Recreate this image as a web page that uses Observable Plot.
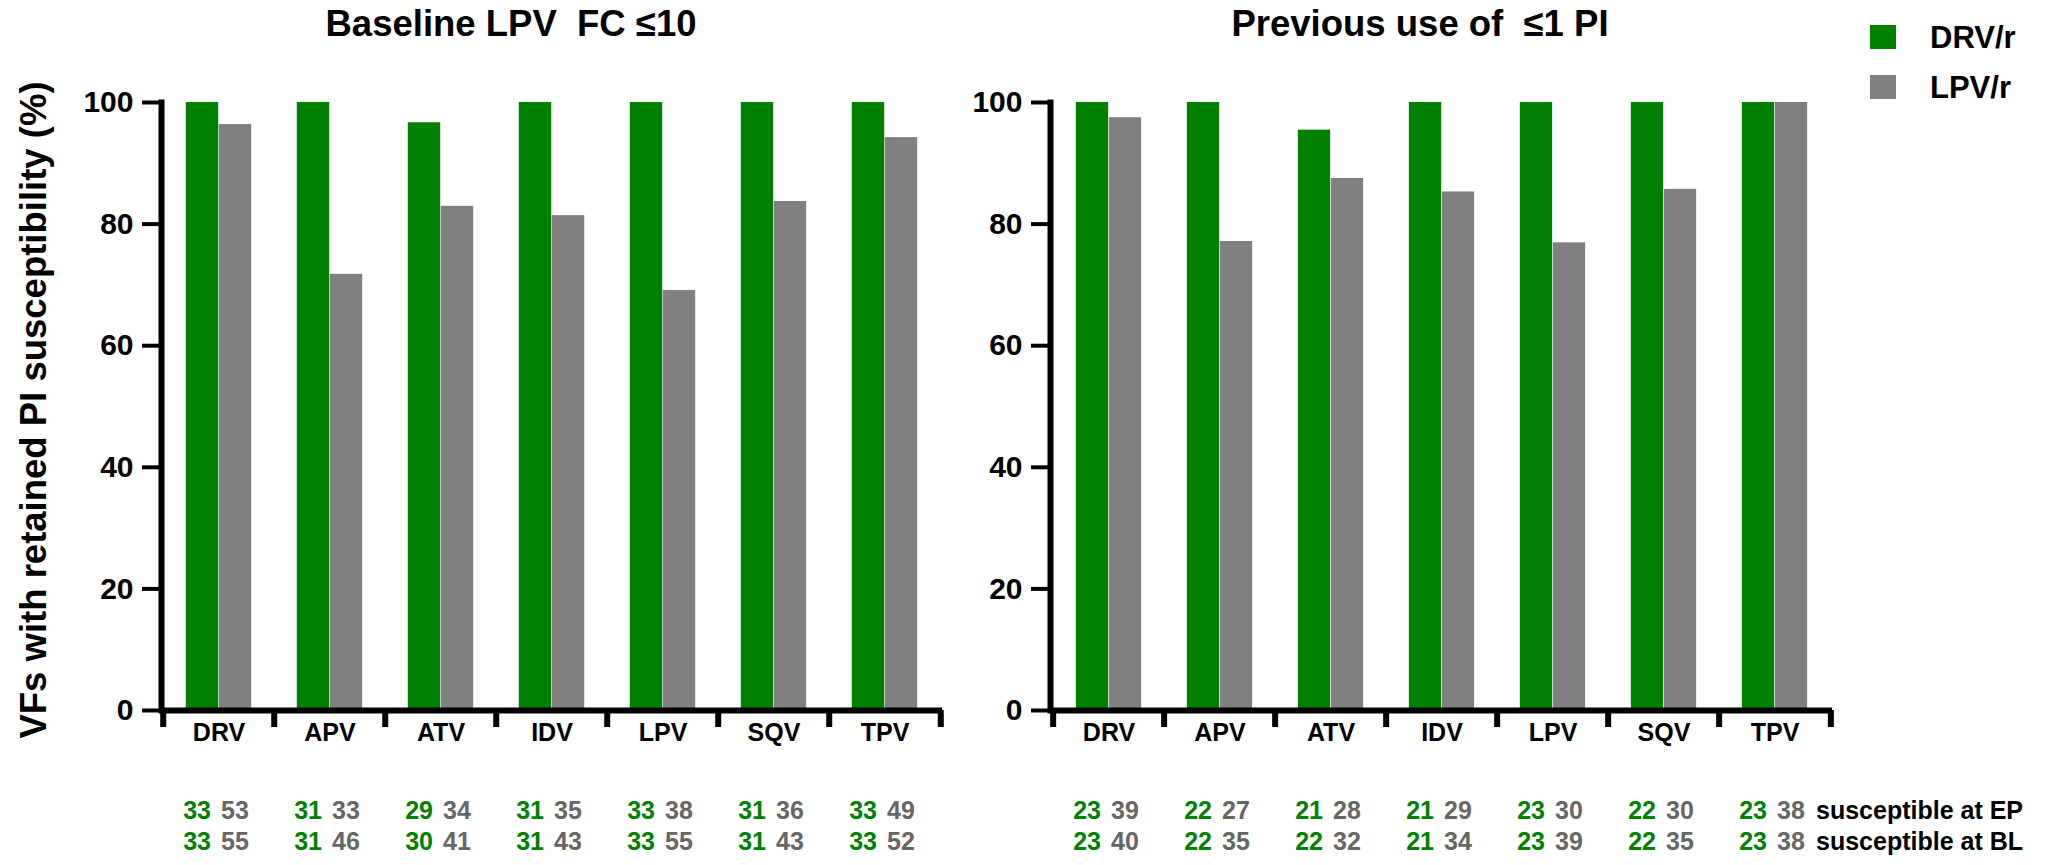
<!DOCTYPE html>
<html>
<head>
<meta charset="utf-8">
<script src="https://cdn.jsdelivr.net/npm/d3@7"></script>
<script src="https://cdn.jsdelivr.net/npm/@observablehq/plot@0.6"></script>
<style>
  html, body { margin: 0; padding: 0; background: #fff; }
  body { width: 2052px; height: 865px; position: relative; overflow: hidden;
         font-family: "Liberation Sans", Arial, sans-serif; font-weight: bold; color: #000; }
  .abs { position: absolute; white-space: nowrap; line-height: 1; }
  .title { font-size: 36.5px; transform: translateX(-50%); }
  .ylabel { font-size: 36.5px; transform: translate(-50%, -50%) rotate(-90deg); }
  .swatch { position: absolute; width: 26px; height: 24px; }
  .legtext { font-size: 31px; transform: translateY(-50%); }
  svg { position: absolute; top: 0; }
</style>
</head>
<body>
<div class="abs title" id="title-left" style="left:511px; top:6px;">Baseline LPV&nbsp; FC ≤10</div>
<div class="abs title" id="title-right" style="left:1420px; top:6px;">Previous use of&nbsp; ≤1 PI</div>
<div class="abs ylabel" style="left:34px; top:410px;">VFs with retained PI susceptibility (%)</div>
<div id="legend"></div>
<div id="chart-left"></div>
<div id="chart-right"></div>
<script>
// Protease inhibitors on the x axis
const categories = ["DRV", "APV", "ATV", "IDV", "LPV", "SQV", "TPV"];

// Baseline LPV FC <= 10: counts susceptible at endpoint (EP) and at baseline (BL)
const fcDrvEp = [33, 31, 29, 31, 33, 31, 33];
const fcDrvBl = [33, 31, 30, 31, 33, 31, 33];
const fcLpvEp = [53, 33, 34, 35, 38, 36, 49];
const fcLpvBl = [55, 46, 41, 43, 55, 43, 52];

// Previous use of <= 1 PI
const piDrvEp = [23, 22, 21, 21, 23, 22, 23];
const piDrvBl = [23, 22, 22, 21, 23, 22, 23];
const piLpvEp = [39, 27, 28, 29, 30, 30, 38];
const piLpvBl = [40, 35, 32, 34, 39, 35, 38];

const series = ["DRV/r", "LPV/r"];
const yTicks = [0, 20, 40, 60, 80, 100];
const rowLabels = ["susceptible at EP", "susceptible at BL"];

const GREEN = "#008000";
const GRAY = "#808080";
const NUM_GRAY = "#666666";

const H = 865, MT = 102, MB = 155;
const BAR = 33;

function panel({drvEp, drvBl, lpvEp, lpvBl, width, marginLeft, marginRight, withRowLabels}) {
  // bar height = share of viruses still susceptible at endpoint, in percent
  const rows = categories.map((cat, i) => ({
    cat,
    drvEp: drvEp[i], drvBl: drvBl[i], lpvEp: lpvEp[i], lpvBl: lpvBl[i],
    drv: drvEp[i] / drvBl[i] * 100,
    lpv: lpvEp[i] / lpvBl[i] * 100
  }));
  const bw = (width - marginLeft - marginRight) / categories.length;
  const last = categories[categories.length - 1];
  const numStyle = {frameAnchor: "bottom", fontSize: 25, fontWeight: "bold"};
  const marks = [
    Plot.barY(rows, {x: "cat", y: "drv", fill: GREEN, insetLeft: bw / 2 - BAR, insetRight: bw / 2}),
    Plot.barY(rows, {x: "cat", y: "lpv", fill: GRAY, insetLeft: bw / 2, insetRight: bw / 2 - BAR}),
    Plot.frame({anchor: "left", stroke: "black", strokeWidth: 6}),
    Plot.axisY({ticks: yTicks, tickSize: 19, tickPadding: 9, strokeWidth: 4, fontSize: 30,
                fontWeight: "bold", tickFormat: d => String(d), label: null}),
    Plot.ruleY([0], {stroke: "black", strokeWidth: 6}),
    // ticks on the category boundaries
    Plot.axisX({ticks: categories, tickSize: 17, strokeWidth: 6, dx: -bw / 2,
                tickFormat: () => "", label: null}),
    Plot.axisX({ticks: [last], tickSize: 17, strokeWidth: 6, dx: bw / 2,
                tickFormat: () => "", label: null}),
    Plot.text(categories, {x: d => d, text: d => d, frameAnchor: "bottom", dy: 30,
                           fontSize: 25, fontWeight: "bold", fill: "black"}),
    Plot.text(rows, {...numStyle, x: "cat", text: d => String(d.drvEp), dy: 108, dx: -8, textAnchor: "end", fill: GREEN}),
    Plot.text(rows, {...numStyle, x: "cat", text: d => String(d.lpvEp), dy: 108, dx: 2, textAnchor: "start", fill: NUM_GRAY}),
    Plot.text(rows, {...numStyle, x: "cat", text: d => String(d.drvBl), dy: 139, dx: -8, textAnchor: "end", fill: GREEN}),
    Plot.text(rows, {...numStyle, x: "cat", text: d => String(d.lpvBl), dy: 139, dx: 2, textAnchor: "start", fill: NUM_GRAY})
  ];
  if (withRowLabels) {
    marks.push(
      Plot.text([rowLabels[0]], {...numStyle, x: () => last, text: d => d, dy: 108, dx: 41, textAnchor: "start", fill: "black"}),
      Plot.text([rowLabels[1]], {...numStyle, x: () => last, text: d => d, dy: 139, dx: 41, textAnchor: "start", fill: "black"})
    );
  }
  return Plot.plot({
    width, height: H,
    marginLeft, marginRight, marginTop: MT, marginBottom: MB,
    style: {fontFamily: "'Liberation Sans', Arial, sans-serif", fontWeight: "bold", color: "black", background: "transparent", overflow: "visible"},
    x: {type: "band", domain: categories, padding: 0, axis: null},
    y: {domain: [0, 100], axis: null},
    marks
  });
}

const left = panel({drvEp: fcDrvEp, drvBl: fcDrvBl, lpvEp: fcLpvEp, lpvBl: fcLpvBl,
                    width: 1000, marginLeft: 161, marginRight: 58, withRowLabels: false});
left.style.left = "0px";
document.getElementById("chart-left").append(left);

const right = panel({drvEp: piDrvEp, drvBl: piDrvBl, lpvEp: piLpvEp, lpvBl: piLpvBl,
                     width: 1052, marginLeft: 50, marginRight: 220, withRowLabels: true});
right.style.left = "1000px";
document.getElementById("chart-right").append(right);

// legend
const legend = document.getElementById("legend");
const legendColors = [GREEN, GRAY];
series.forEach((s, i) => {
  const sw = document.createElement("div");
  sw.className = "swatch";
  sw.style.left = "1870px";
  sw.style.top = (25 + i * 50) + "px";
  sw.style.background = legendColors[i];
  legend.append(sw);
  const t = document.createElement("div");
  t.className = "abs legtext";
  t.style.left = "1930px";
  t.style.top = (37 + i * 50) + "px";
  t.textContent = s;
  legend.append(t);
});
</script>
</body>
</html>
